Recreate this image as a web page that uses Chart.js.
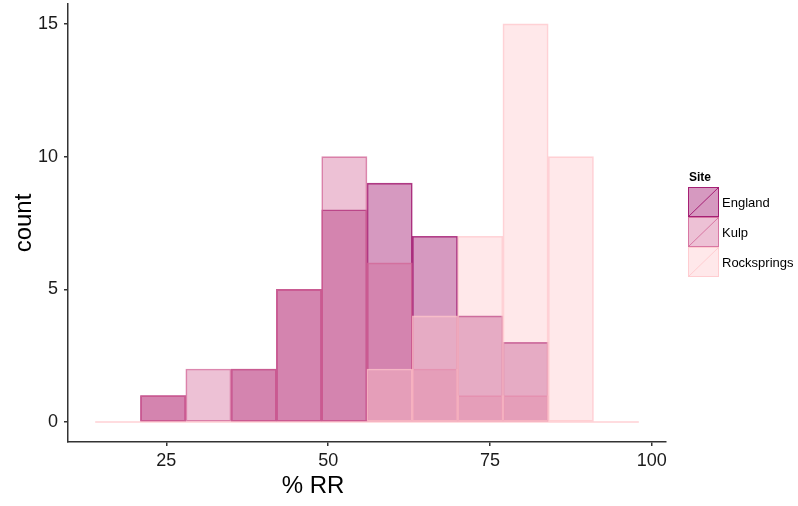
<!DOCTYPE html>
<html><head><meta charset="utf-8">
<script src="https://cdn.jsdelivr.net/npm/chart.js@4"></script>
<style>html,body{margin:0;padding:0;background:#fff}#wrap{width:798px;height:506px;position:relative}</style>
</head><body><div id="wrap"><canvas id="c" width="798" height="506"></canvas></div>
<script>
const siteNames = ['England', 'Kulp', 'Rocksprings'];
const binCenters = [17.5, 24.5, 31.5, 38.5, 45.5, 52.5, 59.5, 66.5, 73.5, 80.5, 87.5, 94.5];
const englandCounts = [0, 1, 0, 2, 5, 8, 9, 7, 4, 3, 0, 0];
const kulpCounts = [0, 1, 2, 2, 5, 10, 6, 2, 1, 1, 0, 0];
const rockspringsCounts = [0, 0, 0, 0, 0, 0, 2, 4, 7, 15, 10, 0];
const xTickValues = [25, 50, 75, 100];
const yTickValues = [0, 5, 10, 15];
const xTitle = '% RR';
const yTitle = 'count';
const legendTitle = 'Site';

const binWidth = binCenters[1] - binCenters[0];
const siteColors = [[152, 0, 97], [210, 100, 150], [255, 198, 203]];
const rgba = (c, a) => `rgba(${c[0]},${c[1]},${c[2]},${a})`;
const FONT = '"Liberation Sans", Arial, sans-serif';

const xStart = binCenters[0] - binWidth / 2;
const xEnd = binCenters[binCenters.length - 1] + binWidth / 2;
const xPad = (xEnd - xStart) * 0.05;
const yMaxData = Math.max(...englandCounts, ...kulpCounts, ...rockspringsCounts);
const yPad = yMaxData * 0.05;

const seriesCounts = [englandCounts, kulpCounts, rockspringsCounts];
const barSets = seriesCounts.map((counts, i) => ({
  type: 'bar',
  label: siteNames[i],
  data: binCenters.map((c, j) => ({ x: c, y: counts[j] })),
  backgroundColor: rgba(siteColors[i], 0.4),
  borderColor: rgba(siteColors[i], 0.75),
  borderWidth: 1,
  borderSkipped: false,
  grouped: false,
  barPercentage: 1,
  categoryPercentage: 1,
  order: 2 - i
}));
const zeroLine = {
  type: 'line',
  label: 'zero',
  data: [{ x: xStart, y: 0 }, { x: xEnd, y: 0 }],
  borderColor: rgba(siteColors[2], 0.8),
  borderWidth: 1.5,
  pointRadius: 0,
  order: -1
};

const decorPlugin = {
  id: 'decor',
  afterDraw(chart) {
    const ctx = chart.ctx;
    ctx.save();
    ctx.fillStyle = '#000';
    ctx.font = '24px ' + FONT;
    ctx.textAlign = 'center';
    ctx.textBaseline = 'alphabetic';
    ctx.fillText(xTitle, 313, 493);
    ctx.save();
    ctx.translate(31, (chart.chartArea.top + chart.chartArea.bottom) / 2);
    ctx.rotate(-Math.PI / 2);
    ctx.fillText(yTitle, 0, 0);
    ctx.restore();

    ctx.textAlign = 'left';
    ctx.font = 'bold 12px ' + FONT;
    ctx.fillText(legendTitle, 689, 181);
    ctx.font = '13px ' + FONT;
    siteNames.forEach((name, i) => {
      const x = 688, y = 187 + i * 30, w = 31, h = 30;
      const c = siteColors[i];
      ctx.fillStyle = rgba(c, 0.4);
      ctx.fillRect(x, y, w, h);
      ctx.strokeStyle = rgba(c, 0.8);
      ctx.lineWidth = 1;
      ctx.strokeRect(x + 0.5, y + 0.5, w - 1, h - 1);
      ctx.beginPath();
      ctx.moveTo(x + 0.5, y + h - 0.5);
      ctx.lineTo(x + w - 0.5, y + 0.5);
      ctx.stroke();
      ctx.fillStyle = '#000';
      ctx.textBaseline = 'middle';
      ctx.fillText(name, 722, y + h / 2 + 1);
    });
    ctx.restore();
  }
};

const gridOpts = { offset: false, drawOnChartArea: false, drawTicks: true, tickLength: 4, color: '#333', lineWidth: 1.5 };
const borderOpts = { display: true, color: '#333', width: 1.5 };
const tickFont = { family: FONT, size: 18 };

new Chart(document.getElementById('c'), {
  data: { datasets: [...barSets, zeroLine] },
  options: {
    responsive: false,
    animation: false,
    layout: { padding: { top: 4, right: 132, left: 0, bottom: 0 } },
    plugins: { legend: { display: false }, tooltip: { enabled: false } },
    scales: {
      x: {
        type: 'linear',
        offset: false,
        min: xStart - xPad,
        max: xEnd + xPad,
        grid: gridOpts,
        border: borderOpts,
        ticks: { color: '#1a1a1a', font: tickFont, padding: 4, maxRotation: 0 },
        afterBuildTicks: s => { s.ticks = xTickValues.map(v => ({ value: v })); },
        afterFit: s => { s.height = 64; s.paddingLeft = 0; s.paddingRight = 0; }
      },
      y: {
        type: 'linear',
        offset: false,
        min: -yPad,
        max: yMaxData + yPad,
        grid: gridOpts,
        border: borderOpts,
        ticks: { color: '#1a1a1a', font: tickFont, padding: 6 },
        afterBuildTicks: s => { s.ticks = yTickValues.map(v => ({ value: v })); },
        afterFit: s => { s.width = 68; s.paddingTop = 0; s.paddingBottom = 0; }
      }
    }
  },
  plugins: [decorPlugin]
});
</script>
</body></html>
